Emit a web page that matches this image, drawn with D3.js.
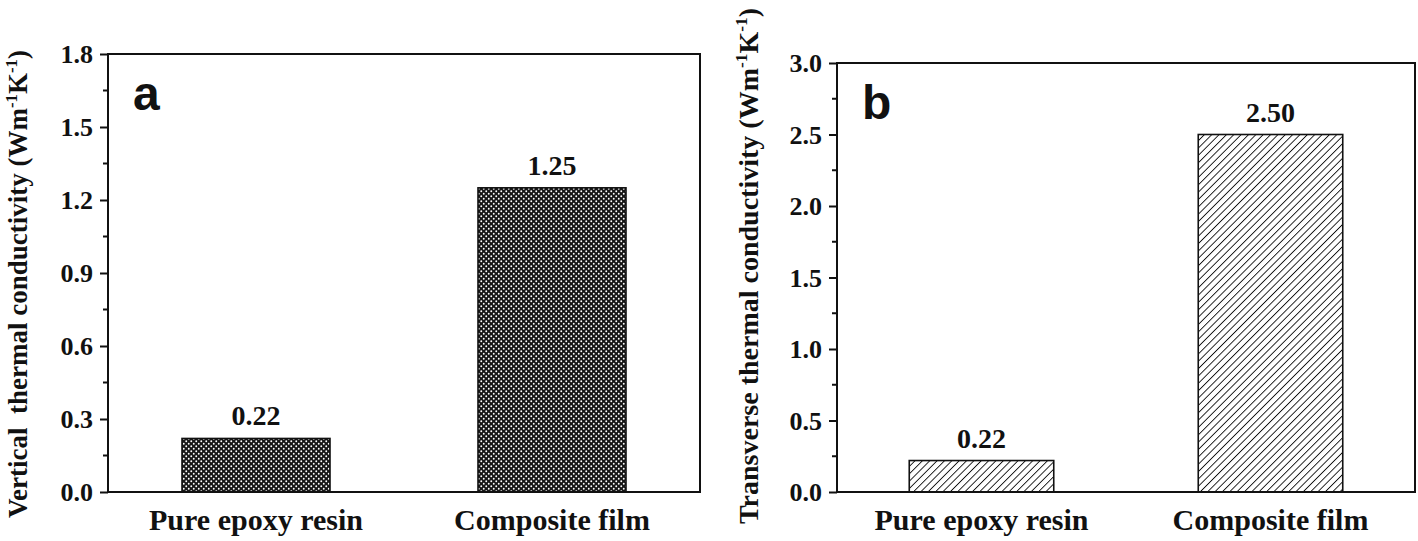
<!DOCTYPE html>
<html>
<head>
<meta charset="utf-8">
<script src="https://cdn.jsdelivr.net/npm/d3@7"></script>
<style>
  body { margin: 0; background: #fff; }
  svg { display: block; }
</style>
</head>
<body>
<script>
var W = 1418, H = 541;
var serif = '"Liberation Serif", "Times New Roman", serif';

let categories = ['Pure epoxy resin', 'Composite film'];
let verticalVals = [0.22, 1.25];
let verticalLabels = ['0.22', '1.25'];
let transverseVals = [0.22, 2.50];
let transverseLabels = ['0.22', '2.50'];
let ticksA = [0, 0.3, 0.6, 0.9, 1.2, 1.5, 1.8];
let ticksB = [0, 0.5, 1.0, 1.5, 2.0, 2.5, 3.0];

let svg = d3.select('body').append('svg')
    .attr('width', W)
    .attr('height', H)
    .style('font-family', serif)
    .style('font-weight', 'bold');

let defs = svg.append('defs');

// dense cross-hatch for panel a
let pa = defs.append('pattern')
    .attr('id', 'cross')
    .attr('patternUnits', 'userSpaceOnUse')
    .attr('width', 5)
    .attr('height', 5);
pa.append('rect').attr('width', 5).attr('height', 5).attr('fill', '#161616');
pa.append('circle').attr('cx', 1.25).attr('cy', 1.25).attr('r', 0.95).attr('fill', '#fff');
pa.append('circle').attr('cx', 3.75).attr('cy', 3.75).attr('r', 0.95).attr('fill', '#fff');

// diagonal hatch for panel b
let pb = defs.append('pattern')
    .attr('id', 'diag')
    .attr('patternUnits', 'userSpaceOnUse')
    .attr('width', 5.2)
    .attr('height', 5.2)
    .attr('patternTransform', 'rotate(45)');
pb.append('rect').attr('width', 5.2).attr('height', 5.2).attr('fill', '#fff');
pb.append('line')
    .attr('x1', 0).attr('y1', 0).attr('x2', 0).attr('y2', 5.2)
    .attr('stroke', '#111').attr('stroke-width', 1.8);

function drawPanel(opt) {
    let x = d3.scaleBand()
        .domain(categories)
        .range([opt.left, opt.right])
        .paddingInner(0.5)
        .paddingOuter(0.25);
    let y = d3.scaleLinear()
        .domain([0, opt.max])
        .range([opt.bottom, opt.top]);

    let g = svg.append('g');

    // bars
    g.selectAll('.bar')
        .data(opt.values)
        .enter().append('rect')
        .attr('x', (d, i) => x(categories[i]))
        .attr('y', d => y(d))
        .attr('width', x.bandwidth())
        .attr('height', d => y(0) - y(d))
        .attr('fill', `url(#${opt.pattern})`)
        .attr('stroke', '#111')
        .attr('stroke-width', 1.6);

    // value labels
    g.selectAll('.val')
        .data(opt.values)
        .enter().append('text')
        .attr('x', (d, i) => x(categories[i]) + x.bandwidth() / 2)
        .attr('y', d => y(d) - 13)
        .attr('text-anchor', 'middle')
        .attr('fill', '#111')
        .style('font-size', '28px')
        .text((d, i) => opt.labels[i]);

    // frame
    g.append('rect')
        .attr('x', opt.left)
        .attr('y', opt.top)
        .attr('width', opt.right - opt.left)
        .attr('height', opt.bottom - opt.top)
        .attr('fill', 'none')
        .attr('stroke', '#111')
        .attr('stroke-width', 2);

    // left axis with minor ticks
    let yAxis = d3.axisLeft(y)
        .tickValues(opt.ticks)
        .tickSize(8)
        .tickPadding(7)
        .tickFormat(d3.format('.1f'));
    let ax = g.append('g')
        .attr('transform', `translate(${opt.left},0)`)
        .call(yAxis);
    ax.select('.domain').remove();
    ax.selectAll('line').attr('stroke', '#111').attr('stroke-width', 2);
    ax.selectAll('text')
        .attr('fill', '#111')
        .attr('dy', '0.34em')
        .style('font-family', serif)
        .style('font-weight', 'bold')
        .style('font-size', '26px');

    let step = opt.ticks[1] - opt.ticks[0];
    let minors = opt.ticks.slice(0, -1).map(t => t + step / 2);
    g.selectAll('.minor')
        .data(minors)
        .enter().append('line')
        .attr('x1', opt.left - 5)
        .attr('x2', opt.left)
        .attr('y1', d => y(d))
        .attr('y2', d => y(d))
        .attr('stroke', '#111')
        .attr('stroke-width', 2);

    // category labels
    g.selectAll('.cat')
        .data(categories)
        .enter().append('text')
        .attr('x', d => x(d) + x.bandwidth() / 2)
        .attr('y', opt.bottom + 38)
        .attr('text-anchor', 'middle')
        .attr('fill', '#111')
        .style('font-size', '30px')
        .text(d => d);

    // y title
    let ts = opt.titleSize;
    let t = g.append('text')
        .attr('transform', `translate(${opt.titleX},${opt.titleY}) rotate(-90)`)
        .attr('text-anchor', 'middle')
        .attr('fill', '#111')
        .style('font-size', ts + 'px');
    t.append('tspan').text(opt.title + ' (Wm');
    t.append('tspan').attr('dy', -ts * 0.38).style('font-size', (ts * 0.62) + 'px').text('-1');
    t.append('tspan').attr('dy', ts * 0.38).text('K');
    t.append('tspan').attr('dy', -ts * 0.38).style('font-size', (ts * 0.62) + 'px').text('-1');
    t.append('tspan').attr('dy', ts * 0.38).text(')');

    // panel letter
    g.append('text')
        .attr('x', opt.left + 25)
        .attr('y', opt.top + 56)
        .attr('fill', '#111')
        .style('font-family', '"Liberation Sans", Arial, sans-serif')
        .style('font-weight', 'bold')
        .style('font-size', '48px')
        .text(opt.letter);
}

drawPanel({
    left: 108, right: 700, top: 54, bottom: 492,
    max: 1.8, ticks: ticksA, values: verticalVals, labels: verticalLabels,
    pattern: 'cross', letter: 'a',
    title: 'Vertical\u00a0\u00a0thermal conductivity', titleX: 27, titleY: 284, titleSize: 27
});

drawPanel({
    left: 837, right: 1415, top: 63, bottom: 492,
    max: 3.0, ticks: ticksB, values: transverseVals, labels: transverseLabels,
    pattern: 'diag', letter: 'b',
    title: 'Transverse thermal conductivity', titleX: 758, titleY: 266, titleSize: 28
});
</script>
</body>
</html>
